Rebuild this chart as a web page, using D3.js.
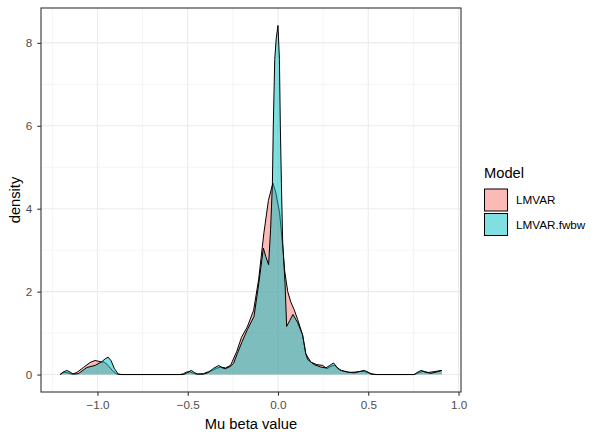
<!DOCTYPE html>
<html>
<head>
<meta charset="utf-8">
<script src="https://cdn.jsdelivr.net/npm/d3@7"></script>
<style>
  body { margin: 0; background: #fff; }
  text { font-family: "Liberation Sans", Arial, sans-serif; }
</style>
</head>
<body>
<div id="chart"></div>
<script>
// density estimates, one (x, density) pair list per model
var lmvarX = [-1.207,-1.185,-1.163,-1.141,-1.114,-1.078,-1.041,-1.013,-0.985,-0.963,-0.941,-0.918,-0.896,-0.874,
  -0.541,-0.524,-0.507,-0.491,-0.474,-0.452,-0.413,-0.385,-0.363,-0.341,-0.318,-0.291,-0.263,-0.229,-0.202,
  -0.170,-0.135,-0.107,-0.078,-0.053,-0.028,-0.013,0.009,0.026,0.037,0.054,0.071,0.089,0.109,0.136,0.154,
  0.182,0.215,0.248,0.271,0.293,0.315,0.337,0.365,0.393,0.432,0.471,0.504,0.526,0.548,0.754,0.782,0.804,
  0.832,0.865,0.908];
var lmvarD = [0,0.06,0.04,0.01,0.05,0.17,0.29,0.34,0.31,0.30,0.22,0.10,0.02,0,
  0,0.02,0.06,0.07,0.04,0.01,0.02,0.07,0.10,0.15,0.18,0.16,0.22,0.55,0.90,
  1.15,1.55,2.30,3.42,4.20,4.62,4.40,3.90,3.10,2.50,2.00,1.75,1.57,1.33,0.96,0.50,
  0.30,0.24,0.22,0.14,0.20,0.22,0.12,0.08,0.05,0.06,0.08,0.04,0.01,0,0,0.05,0.08,
  0.05,0.07,0.10];

var fwbwX = [-1.207,-1.190,-1.170,-1.152,-1.135,-1.106,-1.059,-1.013,-0.976,-0.957,-0.941,-0.924,-0.907,-0.885,-0.863,
  -0.524,-0.507,-0.481,-0.463,-0.446,-0.413,-0.385,-0.357,-0.328,-0.307,-0.291,-0.263,-0.246,-0.226,-0.198,
  -0.170,-0.133,-0.106,-0.081,-0.068,-0.052,-0.041,-0.031,-0.026,-0.018,-0.010,0.000,0.008,0.013,0.019,0.026,
  0.039,0.048,0.065,0.083,0.109,0.136,0.154,0.165,0.200,0.237,0.265,0.287,0.308,0.326,0.348,0.387,0.422,
  0.448,0.478,0.498,0.515,0.537,0.754,0.771,0.793,0.821,0.848,0.876,0.908];
var fwbwD = [0,0.06,0.10,0.06,0.01,0.02,0.17,0.22,0.31,0.38,0.42,0.33,0.15,0.01,0,
  0,0.03,0.10,0.05,0.01,0.01,0.05,0.15,0.22,0.16,0.14,0.20,0.27,0.50,0.80,
  1.08,1.40,2.21,3.05,2.85,2.65,3.50,4.60,6.00,7.60,8.10,8.42,7.60,6.00,4.60,3.20,
  2.20,1.16,1.30,1.45,1.25,0.96,0.50,0.36,0.24,0.18,0.16,0.22,0.28,0.18,0.10,0.06,0.04,
  0.07,0.10,0.06,0.01,0,0,0.05,0.10,0.05,0.03,0.06,0.10];

var models = ["LMVAR", "LMVAR.fwbw"];
var fills = ["#F8766D", "#00BFC4"];
var xTicks = [-1.0, -0.5, 0.0, 0.5, 1.0];
var yTicks = [0, 2, 4, 6, 8];

var width = 594, height = 435;
var margin = {top: 8, right: 133, bottom: 43, left: 41};

var series = [
  lmvarX.map(function(x, i) { return {x: x, d: lmvarD[i]}; }),
  fwbwX.map(function(x, i) { return {x: x, d: fwbwD[i]}; })
];

var allX = lmvarX.concat(fwbwX);
var allD = lmvarD.concat(fwbwD);
var xr = d3.extent(allX), yr = [0, d3.max(allD)];
var xPad = (xr[1] - xr[0]) * 0.05, yPad = (yr[1] - yr[0]) * 0.05;

var x = d3.scaleLinear().domain([xr[0] - xPad, xr[1] + xPad]).range([margin.left, width - margin.right]);
var y = d3.scaleLinear().domain([yr[0] - yPad, yr[1] + yPad]).range([height - margin.bottom, margin.top]);

var svg = d3.select('#chart').append('svg').attr('width', width).attr('height', height);

var pw = width - margin.right - margin.left, ph = height - margin.bottom - margin.top;

// grid
var grid = svg.append('g');
var xMinor = d3.range(-1.25, 1.0, 0.5);
var yMinor = [1, 3, 5, 7];
grid.selectAll('.xminor').data(xMinor).enter().append('line')
  .attr('x1', function(d) { return x(d); }).attr('x2', function(d) { return x(d); })
  .attr('y1', margin.top).attr('y2', margin.top + ph)
  .attr('stroke', '#EBEBEB').attr('stroke-width', 0.55);
grid.selectAll('.yminor').data(yMinor).enter().append('line')
  .attr('y1', function(d) { return y(d); }).attr('y2', function(d) { return y(d); })
  .attr('x1', margin.left).attr('x2', margin.left + pw)
  .attr('stroke', '#EBEBEB').attr('stroke-width', 0.55);
grid.selectAll('.xmajor').data(xTicks).enter().append('line')
  .attr('x1', function(d) { return x(d); }).attr('x2', function(d) { return x(d); })
  .attr('y1', margin.top).attr('y2', margin.top + ph)
  .attr('stroke', '#EBEBEB').attr('stroke-width', 1.1);
grid.selectAll('.ymajor').data(yTicks).enter().append('line')
  .attr('y1', function(d) { return y(d); }).attr('y2', function(d) { return y(d); })
  .attr('x1', margin.left).attr('x2', margin.left + pw)
  .attr('stroke', '#EBEBEB').attr('stroke-width', 1.1);

// densities
var area = d3.area().x(function(d) { return x(d.x); }).y0(y(0)).y1(function(d) { return y(d.d); });
var line = d3.line().x(function(d) { return x(d.x); }).y(function(d) { return y(d.d); });

var plot = svg.append('g');
series.forEach(function(s, i) {
  plot.append('path').attr('d', area(s)).attr('fill', fills[i]).attr('fill-opacity', 0.5);
  plot.append('path').attr('d', line(s)).attr('fill', 'none').attr('stroke', '#000').attr('stroke-width', 1);
});

// panel border
svg.append('rect').attr('x', margin.left).attr('y', margin.top).attr('width', pw).attr('height', ph)
  .attr('fill', 'none').attr('stroke', '#333333').attr('stroke-width', 1.1);

// axes
var xAxis = svg.append('g').attr('transform', 'translate(0,' + (margin.top + ph) + ')')
  .call(d3.axisBottom(x).tickValues(xTicks).tickFormat(d3.format('.1f')).tickSize(3.7).tickPadding(5));
var yAxis = svg.append('g').attr('transform', 'translate(' + margin.left + ',0)')
  .call(d3.axisLeft(y).tickValues(yTicks).tickSize(3.7).tickPadding(5));
[xAxis, yAxis].forEach(function(a) {
  a.select('.domain').remove();
  a.selectAll('line').attr('stroke', '#333333').attr('stroke-width', 1.1);
  a.selectAll('text').attr('fill', '#4D4D4D').style('font-size', '11.7px')
    .style('font-family', '"Liberation Sans", Arial, sans-serif');
});

svg.append('text').attr('x', margin.left + pw / 2).attr('y', 429).attr('text-anchor', 'middle')
  .style('font-size', '14.7px').text('Mu beta value');
svg.append('text').attr('transform', 'translate(20,' + (margin.top + ph / 2) + ') rotate(-90)')
  .attr('text-anchor', 'middle').style('font-size', '14.7px').text('density');

// legend
var legend = svg.append('g').attr('transform', 'translate(484,0)');
legend.append('text').attr('x', 0).attr('y', 178).style('font-size', '14.7px').text('Model');
var keys = legend.selectAll('.key').data(models).enter().append('g')
  .attr('transform', function(d, i) { return 'translate(0,' + (189 + i * 24.5) + ')'; });
keys.append('rect').attr('x', 0.5).attr('y', 0).attr('width', 23).attr('height', 22)
  .attr('fill', function(d, i) { return fills[i]; }).attr('fill-opacity', 0.5)
  .attr('stroke', '#000').attr('stroke-width', 1);
keys.append('text').attr('x', 32).attr('y', 15.3).style('font-size', '11.7px').text(function(d) { return d; });
</script>
</body>
</html>
